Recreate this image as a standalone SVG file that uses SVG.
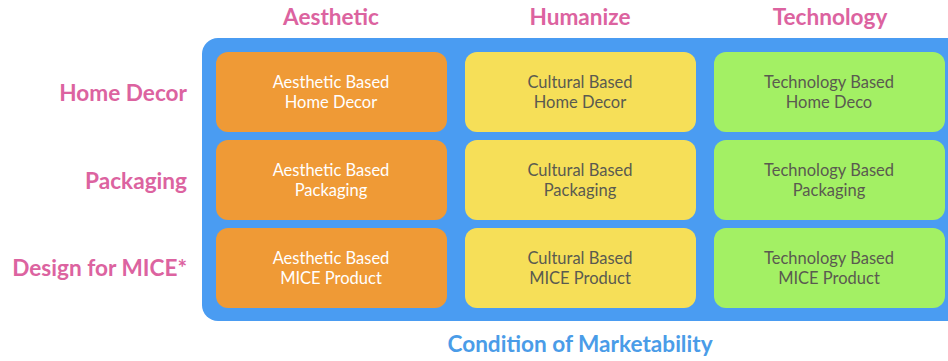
<svg xmlns="http://www.w3.org/2000/svg" width="948" height="361" viewBox="0 0 948 361">
<style>
.hdr{font-family:Lato,"Open Sans",sans-serif;font-weight:bold;font-size:22.6px;fill:#dc63a0;}
.foot{font-family:Lato,"Open Sans",sans-serif;font-weight:bold;font-size:22.6px;fill:#4a9ce8;}
.cell text{font-family:Lato,"Open Sans",sans-serif;font-size:16.5px;text-anchor:middle;}
.o rect{fill:#ef9a36;} .o text{fill:#ffffff;}
.y rect{fill:#f6df58;} .y text{fill:#5a5a50;}
.g rect{fill:#a3f064;} .g text{fill:#5a5a50;}
</style>
<rect x="0" y="0" width="948" height="361" fill="#ffffff"/>
<g id="frame"><rect x="202" y="38" width="760" height="283" rx="16" fill="#4a9cf2"/></g>
<g id="col-headers">
<text class="hdr" x="331" y="25" text-anchor="middle">Aesthetic</text>
<text class="hdr" x="580" y="25" text-anchor="middle">Humanize</text>
<text class="hdr" x="830" y="25" text-anchor="middle">Technology</text>
</g>
<g id="row-headers">
<text class="hdr" x="187" y="101" text-anchor="end">Home Decor</text>
<text class="hdr" x="187" y="189" text-anchor="end">Packaging</text>
<text class="hdr" x="187" y="276" text-anchor="end">Design for MICE*</text>
</g>
<g id="c11" class="cell o"><rect x="216" y="52" width="231" height="80" rx="12"/><text x="331" y="88">Aesthetic Based</text><text x="331" y="108">Home Decor</text></g>
<g id="c12" class="cell y"><rect x="465" y="52" width="231" height="80" rx="12"/><text x="580" y="88">Cultural Based</text><text x="580" y="108">Home Decor</text></g>
<g id="c13" class="cell g"><rect x="714" y="52" width="231" height="80" rx="12"/><text x="829" y="88">Technology Based</text><text x="829" y="108">Home Deco</text></g>
<g id="c21" class="cell o"><rect x="216" y="140" width="231" height="80" rx="12"/><text x="331" y="176">Aesthetic Based</text><text x="331" y="196">Packaging</text></g>
<g id="c22" class="cell y"><rect x="465" y="140" width="231" height="80" rx="12"/><text x="580" y="176">Cultural Based</text><text x="580" y="196">Packaging</text></g>
<g id="c23" class="cell g"><rect x="714" y="140" width="231" height="80" rx="12"/><text x="829" y="176">Technology Based</text><text x="829" y="196">Packaging</text></g>
<g id="c31" class="cell o"><rect x="216" y="228" width="231" height="80" rx="12"/><text x="331" y="264">Aesthetic Based</text><text x="331" y="284">MICE Product</text></g>
<g id="c32" class="cell y"><rect x="465" y="228" width="231" height="80" rx="12"/><text x="580" y="264">Cultural Based</text><text x="580" y="284">MICE Product</text></g>
<g id="c33" class="cell g"><rect x="714" y="228" width="231" height="80" rx="12"/><text x="829" y="264">Technology Based</text><text x="829" y="284">MICE Product</text></g>
<g id="connectors"></g>
<text class="foot" x="580" y="352" text-anchor="middle">Condition of Marketability</text>
</svg>
